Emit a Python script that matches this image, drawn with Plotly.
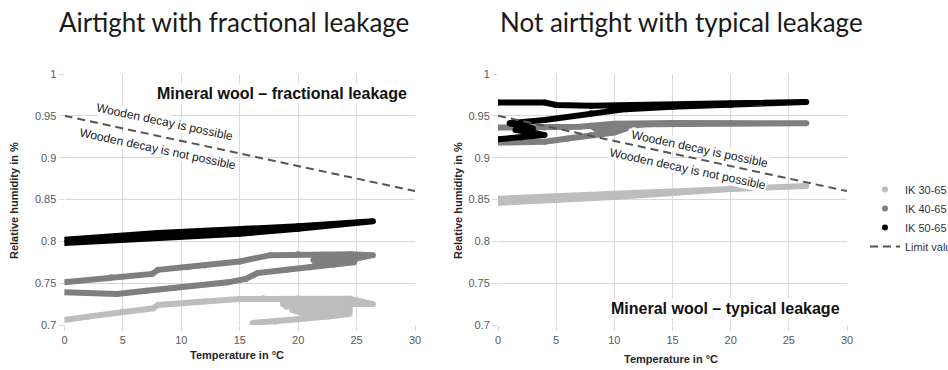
import plotly.graph_objects as go

W, H = 948, 370

# ---------------- data ----------------
# Left panel: airtight, fractional leakage
left_ik30_t = [16.1, 18.0, 20.0, 22.5, 24.4, 20.5, 19.5, 24.4, 24.4, 19.0, 18.7, 24.4, 26.4,
               24.4, 20.0, 17.0, 15.0, 12.0, 8.0, 7.6, 5.0, 2.0, 0.0]
left_ik30_rh = [0.7025, 0.704, 0.707, 0.710, 0.713, 0.7135, 0.718, 0.718, 0.722, 0.722, 0.725, 0.725, 0.725,
                0.7315, 0.732, 0.732, 0.731, 0.728, 0.724, 0.720, 0.716, 0.710, 0.706]

left_ik40_t = [0.0, 2.0, 4.5, 7.0, 10.0, 14.0, 15.5, 16.5, 19.0, 21.0, 23.0, 24.8, 21.5, 21.3, 24.5,
               26.4, 24.5, 20.0, 17.6, 15.0, 12.0, 10.5, 8.0, 7.5, 4.0, 0.0]
left_ik40_rh = [0.739, 0.738, 0.737, 0.741, 0.745, 0.751, 0.755, 0.762, 0.766, 0.769, 0.772, 0.775, 0.774, 0.778, 0.778,
                0.7835, 0.7845, 0.7845, 0.7835, 0.776, 0.771, 0.769, 0.766, 0.761, 0.757, 0.751]

left_ik50_t = [0.0, 7.5, 15.0, 20.0, 26.4, 20.0, 15.5, 8.0, 0.0]
left_ik50_rh = [0.798, 0.804, 0.809, 0.815, 0.824, 0.818, 0.815, 0.810, 0.802]

# Right panel: not airtight, typical leakage
right_ik30_t = [0.0, 10.0, 20.0, 26.5, 20.0, 10.0, 0.0]
right_ik30_rh = [0.846, 0.853, 0.8625, 0.866, 0.864, 0.857, 0.851]

right_ik40_t = [0.0, 4.0, 6.0, 8.0, 10.0, 11.0, 8.5, 8.0, 11.0, 13.0, 20.0, 26.5,
                15.0, 10.0, 7.0, 4.0, 0.0]
right_ik40_rh = [0.918, 0.919, 0.923, 0.927, 0.930, 0.935, 0.933, 0.938, 0.938, 0.940, 0.941, 0.941,
                 0.9415, 0.9405, 0.937, 0.936, 0.936]

right_ik50_t = [0.0, 2.0, 4.0, 3.0, 1.5, 3.0, 2.0, 1.0, 4.0, 8.0, 11.0, 15.0, 20.0, 26.5,
                20.0, 14.0, 8.0, 5.0, 4.0, 0.0]
right_ik50_rh = [0.922, 0.924, 0.927, 0.930, 0.933, 0.935, 0.938, 0.941, 0.945, 0.953, 0.958, 0.961, 0.963, 0.9665,
                 0.965, 0.963, 0.962, 0.963, 0.966, 0.966]

limit_t = [0, 30]
limit_rh = [0.95, 0.86]

series_names = ["IK 30-65", "IK 40-65", "IK 50-65"]
series_colors = ["#bdbdbd", "#7f7f7f", "#000000"]
limit_name = "Limit value"

x_ticks = [0, 5, 10, 15, 20, 25, 30]
y_ticks = [0.7, 0.75, 0.8, 0.85, 0.9, 0.95, 1.0]
y_tick_text = ["0.7", "0.75", "0.8", "0.85", "0.9", "0.95", "1"]

titles = ["Airtight with fractional leakage", "Not airtight with typical leakage"]
inner_labels = ["Mineral wool – fractional leakage", "Mineral wool – typical leakage"]
x_title = "Temperature in °C"
y_title = "Relative humidity in %"

# ---------------- figure ----------------
fig = go.Figure()

panels = [
    ("x", "y", [(left_ik30_t, left_ik30_rh), (left_ik40_t, left_ik40_rh), (left_ik50_t, left_ik50_rh)]),
    ("x2", "y2", [(right_ik30_t, right_ik30_rh), (right_ik40_t, right_ik40_rh), (right_ik50_t, right_ik50_rh)]),
]
widths = [6, 6, 6]
for xa, ya, data in panels:
    for (t, rh), name, col, w in zip(data, series_names, series_colors, widths):
        fig.add_trace(go.Scatter(
            x=t, y=rh, mode="lines+markers", name=name, showlegend=False,
            line=dict(color=col, width=w, shape="linear"),
            marker=dict(color=col, size=w),
            xaxis=xa, yaxis=ya, hoverinfo="skip"))
    fig.add_trace(go.Scatter(
        x=limit_t, y=limit_rh, mode="lines", name=limit_name,
        showlegend=(xa == "x2"), legendrank=4,
        line=dict(color="#555555", width=2, dash="8px,5px"),
        xaxis=xa, yaxis=ya, hoverinfo="skip"))

# legend-only marker entries
for i, (name, col) in enumerate(zip(series_names, series_colors)):
    fig.add_trace(go.Scatter(
        x=[None], y=[None], mode="markers", name=name, legendrank=i + 1,
        marker=dict(color=col, size=6), xaxis="x2", yaxis="y2"))

def px_x(p):
    return p / W

def px_y(p):
    return 1 - p / H

axis_common = dict(
    showgrid=True, gridcolor="#d9d9d9", gridwidth=1,
    zeroline=False, showline=False,
    ticks="outside", ticklen=5, tickcolor="#d9d9d9",
    tickfont=dict(family="Arial", size=11, color="#595959"),
)

ydom = [px_y(325), px_y(74)]
fig.update_layout(
    width=W, height=H,
    margin=dict(l=0, r=0, t=0, b=0, autoexpand=False),
    paper_bgcolor="white", plot_bgcolor="white",
    showlegend=True,
    legend=dict(x=px_x(865), y=px_y(175), xanchor="left", yanchor="top",
                font=dict(family="Arial", size=11, color="#333333"),
                itemwidth=30, bgcolor="rgba(0,0,0,0)", tracegroupgap=0),
    xaxis=dict(domain=[px_x(64.5), px_x(415)], range=[0, 30], tickvals=x_ticks, anchor="y", **axis_common),
    yaxis=dict(domain=ydom, range=[0.7, 1.0], tickvals=y_ticks, ticktext=y_tick_text, anchor="x", **axis_common),
    xaxis2=dict(domain=[px_x(498), px_x(847)], range=[0, 30], tickvals=x_ticks, anchor="y2", **axis_common),
    yaxis2=dict(domain=ydom, range=[0.7, 1.0], tickvals=y_ticks, ticktext=y_tick_text, anchor="x2", **axis_common),
)

ann = []
title_font = dict(family="Lato", size=26, color="#1a1a1a")
ann.append(dict(text=titles[0], x=px_x(234), y=px_y(22), xref="paper", yref="paper",
                showarrow=False, font=title_font, xanchor="center", yanchor="middle"))
ann.append(dict(text=titles[1], x=px_x(681), y=px_y(22), xref="paper", yref="paper",
                showarrow=False, font=title_font, xanchor="center", yanchor="middle"))

bold11 = dict(family="Arial", size=11, color="#262626")
for cx, cy in [(14, 201), (458, 201)]:
    ann.append(dict(text="<b>%s</b>" % y_title, x=px_x(cx), y=px_y(cy), xref="paper", yref="paper",
                    showarrow=False, textangle=-90, font=bold11, xanchor="center", yanchor="middle"))
for cx, cy in [(237, 355), (671, 359)]:
    ann.append(dict(text="<b>%s</b>" % x_title, x=px_x(cx), y=px_y(cy), xref="paper", yref="paper",
                    showarrow=False, font=bold11, xanchor="center", yanchor="middle"))

inner_font = dict(family="Arial", size=16, color="#111111")
ann.append(dict(text="<b>%s</b>" % inner_labels[0], x=px_x(282), y=px_y(93), xref="paper", yref="paper",
                showarrow=False, font=inner_font, bgcolor="white", xanchor="center", yanchor="middle"))
ann.append(dict(text="<b>%s</b>" % inner_labels[1], x=px_x(725), y=px_y(308), xref="paper", yref="paper",
                showarrow=False, font=inner_font, bgcolor="white", xanchor="center", yanchor="middle"))

rot_font = dict(family="Arial", size=12, color="#222222")
for cx, cy, txt in [(165, 122, "Wooden decay is possible"), (158, 149, "Wooden decay is not possible"),
                    (700, 149, "Wooden decay is possible"), (688, 169, "Wooden decay is not possible")]:
    ann.append(dict(text=txt, x=px_x(cx), y=px_y(cy), xref="paper", yref="paper",
                    showarrow=False, textangle=12, font=rot_font, bgcolor="white", borderpad=0,
                    xanchor="center", yanchor="middle"))

fig.update_layout(annotations=ann)

fig.write_html("out.html")
